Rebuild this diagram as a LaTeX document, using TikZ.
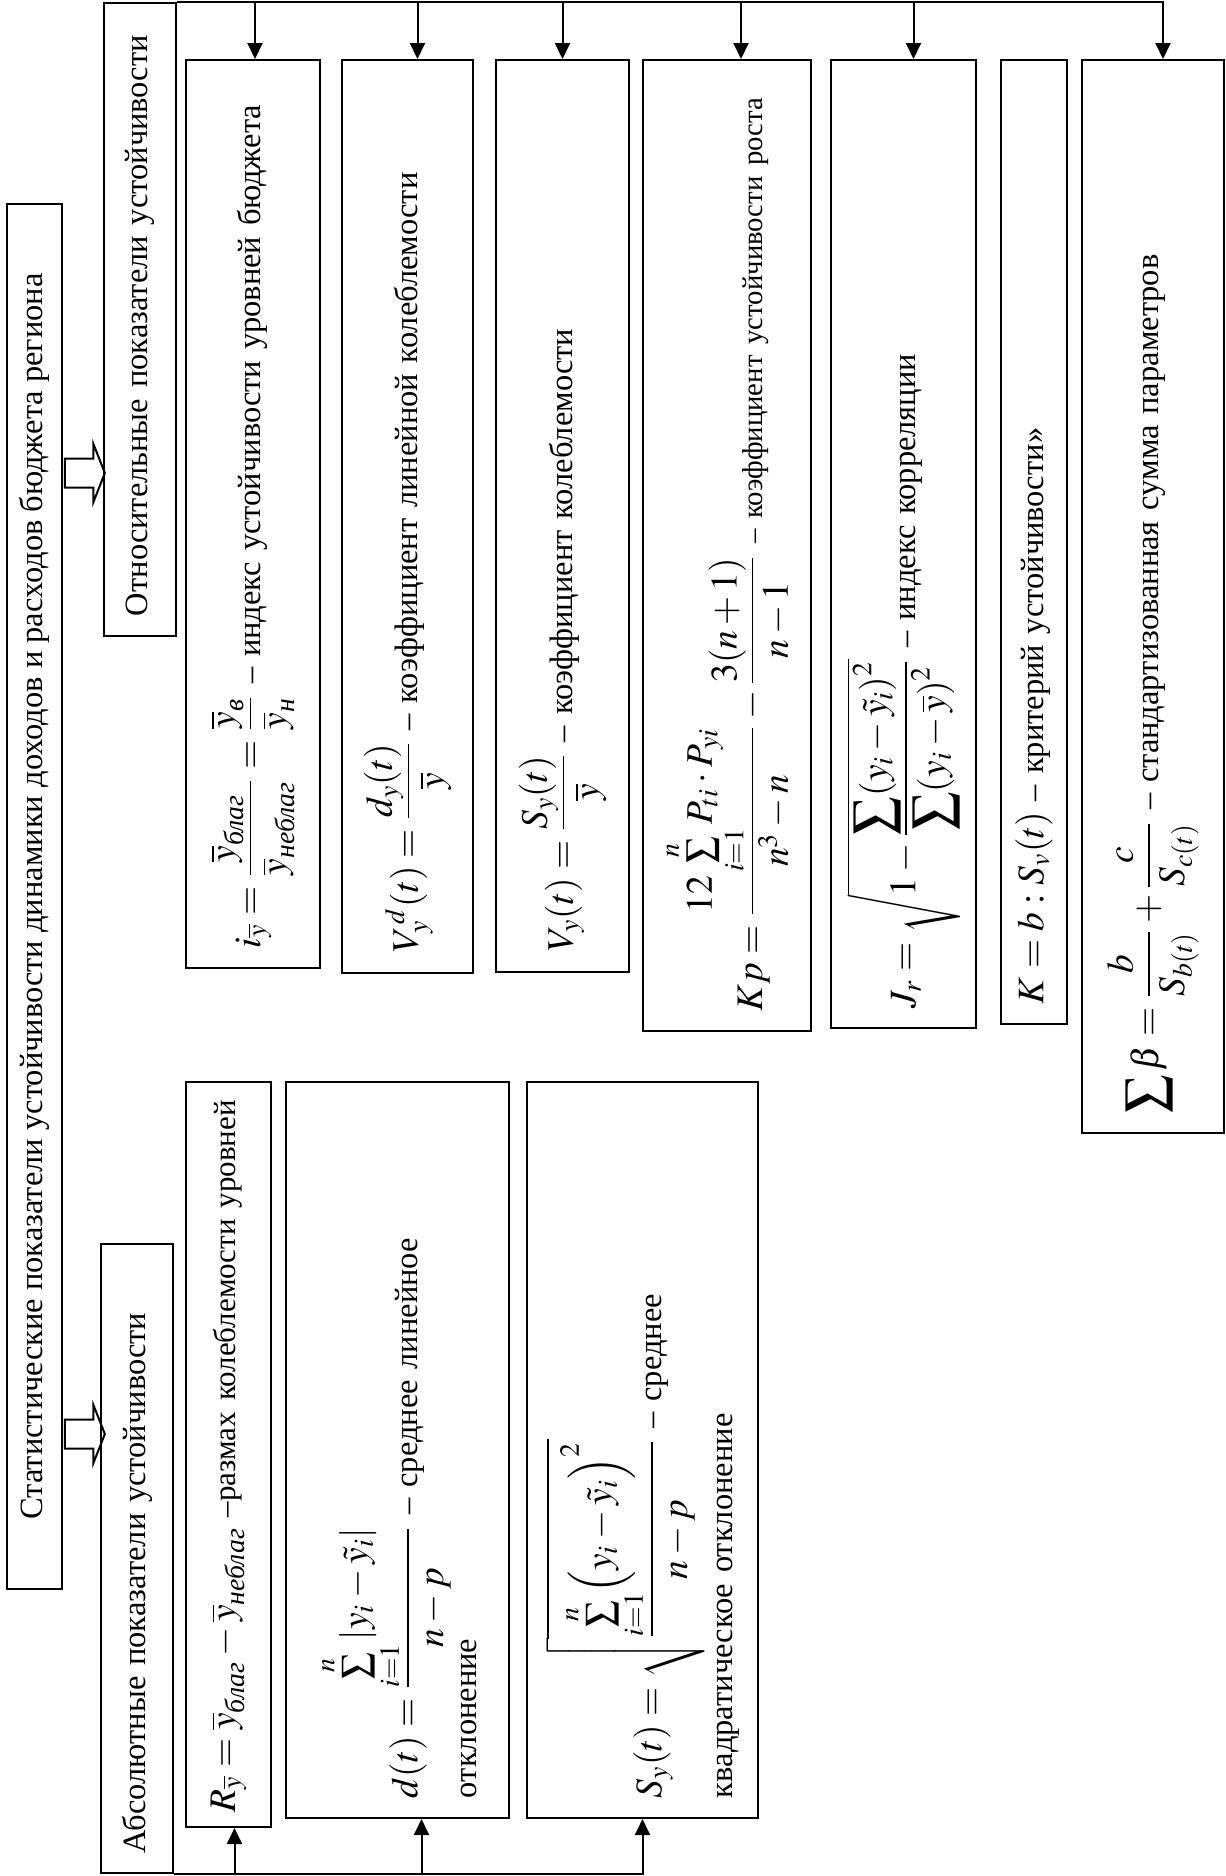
\documentclass[tikz,border=0pt]{standalone}
\usepackage{amsmath}
\usepackage{mathptmx}
\usepackage[no-math]{fontspec}
\setmainfont{Liberation Serif}
\usetikzlibrary{arrows.meta, positioning, shapes.arrows, calc}

\newcommand{\fm}{\fontsize{15}{18}\selectfont}
\newcommand{\cyr}[1]{\text{\itshape #1}}

\begin{document}
\begin{tikzpicture}[x=0.4pt, y=-0.4pt,
    every node/.style={font=\fontsize{13}{16}\selectfont},
    box/.style={draw, line width=0.8pt, rotate=90, inner xsep=8pt, inner ysep=0pt, align=left},
    head/.style={box, align=center, inner xsep=0pt},
    fat/.style={single arrow, draw, line width=0.8pt, inner sep=0pt, inner ysep=5.4pt,
                minimum height=16pt, single arrow head extend=5.8pt, single arrow tip angle=137},
    arr/.style={-{Triangle[length=6.4pt, width=6pt]}, line width=0.8pt}
]
\useasboundingbox (0,0) rectangle (1226,1876);

\node[head, minimum width=554pt, minimum height=22pt] (title) at (34.5,896.5)
    {Статистические показатели устойчивости динамики доходов и расходов бюджета региона};

\node[box, minimum width=253.2pt, minimum height=28.8pt, text width=237.2pt] (relbox) at (140,319.5)
    {Относительные показатели устойчивости};
\node[box, minimum width=251.6pt, minimum height=28.8pt, text width=235.6pt] (absbox) at (137,1558.5)
    {Абсолютные показатели устойчивости};

\node[fat] (fatrel) at (82,473) {};
\node[fat] (fatabs) at (82,1434) {};

% relative indicators
\node[box, minimum width=363.2pt, minimum height=53.6pt, text width=347.2pt] (ibox) at (253,514)
    {\mbox{{\fm $i_{\overline{y}}=\dfrac{\overline{y}_{\cyr{благ}}}{\overline{y}_{\cyr{неблаг}}}=\dfrac{\overline{y}_{\cyr{в}}}{\overline{y}_{\cyr{н}}}$} – индекс устойчивости уровней бюджета}};
\node[box, minimum width=365.2pt, minimum height=52.4pt, text width=349.2pt] (vdbox) at (407.5,516.5)
    {\mbox{{\fm $V_y^{\,d}(t)=\dfrac{d_y(t)}{\overline{y}}$} – коэффициент линейной колеблемости}};
\node[box, minimum width=364.8pt, minimum height=53.2pt, text width=348.8pt] (vybox) at (562.5,516)
    {\mbox{{\fm $V_y(t)=\dfrac{S_y(t)}{\overline{y}}$} – коэффициент колеблемости}};
\node[box, minimum width=388.4pt, minimum height=67.2pt, text width=372.4pt] (kpbox) at (727,545.5)
    {\mbox{{\fm $Kp=\dfrac{12\sum\limits_{i=1}^{n}P_{ti}\cdot P_{yi}}{n^3-n}-\dfrac{3(n+1)}{n-1}$} {\fontsize{11.5}{14}\selectfont – коэффициент устойчивости роста}}};
\node[box, minimum width=387.2pt, minimum height=58pt, text width=371.2pt] (jrbox) at (903.5,544)
    {\mbox{{\fm $J_r=\sqrt{1-\dfrac{\displaystyle\sum(y_i-\tilde{y}_i)^2}{\displaystyle\sum(y_i-\overline{y})^2}}$} – индекс корреляции}};
\node[box, minimum width=385.6pt, minimum height=26.4pt, text width=369.6pt] (kbox) at (1034,542)
    {\mbox{{\fm $K=b:S_v(t)$} – критерий устойчивости»}};
\node[box, minimum width=429.2pt, minimum height=56.8pt, text width=413.2pt] (sbbox) at (1153,596.5)
    {\mbox{{\fm $\displaystyle\sum\beta=\frac{b}{S_{b(t)}}+\frac{c}{S_{c(t)}}$} – стандартизованная сумма параметров}};

% absolute indicators
\node[box, minimum width=298pt, minimum height=34pt, text width=286pt, inner xsep=6pt] (rbox) at (228.5,1454.5)
    {\mbox{{\fm $R_{\overline{y}}=\overline{y}_{\cyr{благ}}-\overline{y}_{\cyr{неблаг}}$} {\fontsize{12.4}{15}\selectfont –размах колеблемости уровней}}};
\node[box, minimum width=294.4pt, minimum height=89.2pt, text width=278.4pt] (dbox) at (397.5,1450)
    {\mbox{{\fm $d(t)=\dfrac{\sum\limits_{i=1}^{n}\left|y_i-\tilde{y}_i\right|}{n-p}$} – среднее линейное}\\[3pt] отклонение};
\node[box, minimum width=294.4pt, minimum height=92.4pt, text width=278.4pt] (sbox) at (642.5,1450)
    {\mbox{{\fm $S_y(t)=\sqrt{\dfrac{\sum\limits_{i=1}^{n}\Bigl(y_i-\tilde{y}_i\Bigr)^2}{n-p}}$} – среднее}\\[4pt] квадратическое отклонение};

\coordinate (sbbox-a) at ($(sbbox.east)+(10,0)$);
\draw[arr] (relbox.south east) -| (sbbox-a);
\foreach \b/\s in {ibox/2, vdbox/10, vybox/0, kpbox/14, jrbox/10} {
    \coordinate (\b-a) at ($(\b.east)+(\s,0)$);
    \draw[arr] (\b-a |- relbox.south east) -- (\b-a);
}

\draw[arr] (absbox.south west) -| (sbox.west);
\foreach \b/\s in {rbox/6, dbox/24} {
    \coordinate (\b-a) at ($(\b.west)+(\s,0)$);
    \draw[arr] (\b-a |- absbox.south west) -- (\b-a);
}
\end{tikzpicture}
\end{document}
